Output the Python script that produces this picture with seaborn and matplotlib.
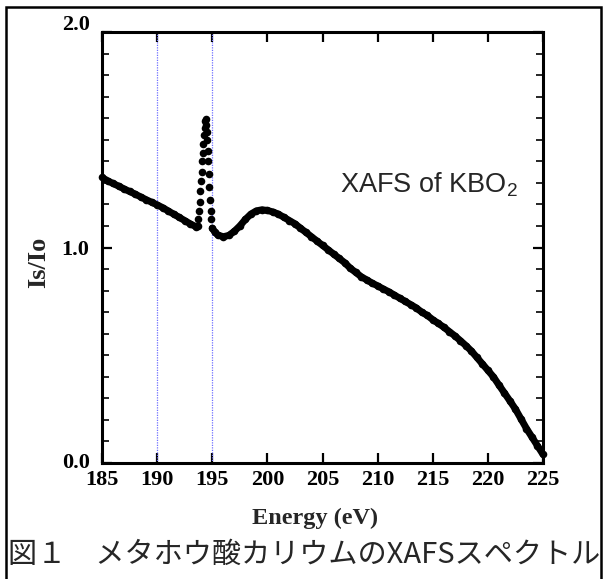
import matplotlib
matplotlib.use("Agg")
import matplotlib.pyplot as plt
import numpy as np
import pandas as pd
import seaborn as sns
from matplotlib.patches import Rectangle
from matplotlib.ticker import MultipleLocator, FormatStrFormatter
from matplotlib.transforms import ScaledTranslation

# ---------------- data ----------------
pre_energy = [185.0, 185.5, 186.0, 186.5, 187.0, 187.5, 188.0, 188.5, 189.0, 189.5,
              190.0, 190.5, 191.0, 191.5, 192.0, 192.5, 193.0, 193.5, 193.7]
pre_ratio = [1.325, 1.31, 1.297, 1.285, 1.272, 1.26, 1.248, 1.235, 1.222, 1.21,
             1.198, 1.185, 1.17, 1.155, 1.14, 1.125, 1.11, 1.097, 1.10]

peak_energy = [193.75, 193.8, 193.85, 193.9, 194.0, 194.05, 194.1, 194.15, 194.2, 194.25,
               194.3, 194.35, 194.4, 194.45, 194.5, 194.55, 194.6, 194.65, 194.7, 194.75,
               194.8, 194.85, 194.9]
peak_ratio = [1.13, 1.17, 1.21, 1.26, 1.31, 1.35, 1.40, 1.44, 1.48, 1.52,
              1.555, 1.585, 1.595, 1.57, 1.535, 1.50, 1.45, 1.40, 1.34, 1.28,
              1.22, 1.17, 1.13]

post_energy = [195.0, 195.25, 195.5, 196.0, 196.5, 197.0, 197.5, 198.0, 198.5, 199.0,
               199.5, 200.0, 200.5, 201.0, 201.5, 202.0, 202.5, 203.0, 203.5, 204.0,
               204.5, 205.0, 205.5, 206.0, 206.5, 207.0, 207.5, 208.0, 208.5, 209.0,
               209.5, 210.0, 210.5, 211.0, 211.5, 212.0, 212.5, 213.0, 213.5, 214.0,
               214.5, 215.0, 215.5, 216.0, 216.5, 217.0, 217.5, 218.0, 218.5, 219.0,
               219.5, 220.0, 220.5, 221.0, 221.5, 222.0, 222.5, 223.0, 223.5, 224.0,
               224.5, 225.0]
post_ratio = [1.09, 1.07, 1.058, 1.05, 1.056, 1.075, 1.10, 1.13, 1.155, 1.17,
              1.175, 1.172, 1.165, 1.155, 1.14, 1.125, 1.11, 1.09, 1.07, 1.05,
              1.03, 1.01, 0.99, 0.97, 0.95, 0.93, 0.905, 0.885, 0.865, 0.85,
              0.835, 0.822, 0.808, 0.795, 0.78, 0.765, 0.75, 0.735, 0.72, 0.70,
              0.685, 0.665, 0.648, 0.63, 0.61, 0.59, 0.568, 0.545, 0.52, 0.49,
              0.46, 0.43, 0.40, 0.362, 0.325, 0.288, 0.25, 0.205, 0.16, 0.12,
              0.08, 0.04]

marker_lines = [190, 195]
x_ticks = [185, 190, 195, 200, 205, 210, 215, 220, 225]
y_ticks = [0.0, 1.0, 2.0]

x_label = "Energy (eV)"
y_label = "Is/Io"
title_text = "XAFS of KBO$_2$"
caption = "図１　メタホウ酸カリウムのXAFSスペクトル"

# ---------------- style ----------------
sns.set_style("ticks")
plt.rcParams["font.family"] = ["Liberation Serif", "DejaVu Sans"]
plt.rcParams["mathtext.fontset"] = "custom"
plt.rcParams["mathtext.rm"] = "Liberation Sans"
plt.rcParams["mathtext.it"] = "Liberation Sans"
plt.rcParams["mathtext.bf"] = "Liberation Sans"

W, H = 607, 579
fig = plt.figure(figsize=(W / 100, H / 100), dpi=100)
fig.patch.set_facecolor("white")

ax_l, ax_r, ax_t, ax_b = 102, 543, 32, 463
ax = fig.add_axes([ax_l / W, 1 - ax_b / H, (ax_r - ax_l) / W, (ax_b - ax_t) / H])
ax.set_facecolor("white")

df_pre = pd.DataFrame({"energy": pre_energy, "ratio": pre_ratio})
df_peak = pd.DataFrame({"energy": peak_energy, "ratio": peak_ratio})
df_post = pd.DataFrame({"energy": post_energy, "ratio": post_ratio})

for xv in marker_lines:
    ax.axvline(xv, color="#6f6fff", lw=0.9, ls=(0, (1, 1)), zorder=1)

for d in (df_pre, df_post):
    sns.lineplot(data=d, x="energy", y="ratio", ax=ax, color="black", lw=5.0,
                 estimator=None, sort=False, solid_capstyle="round",
                 solid_joinstyle="round", zorder=3)
all_df = pd.concat([df_pre, df_peak, df_post])
sns.scatterplot(data=all_df, x="energy", y="ratio", ax=ax, color="black", s=30,
                linewidth=0, zorder=4, clip_on=False)

ax.set_xlim(185, 225)
ax.set_ylim(0, 2)
ax.set_xticks(x_ticks)
ax.set_yticks(y_ticks)
ax.yaxis.set_minor_locator(MultipleLocator(0.1))
ax.yaxis.set_major_formatter(FormatStrFormatter("%.1f"))
ax.tick_params(axis="both", which="major", direction="in", top=True, right=True,
               width=1.6, length=7, labelsize=16, pad=5, colors="black")
ax.tick_params(axis="y", which="minor", direction="in", right=True, left=True,
               width=1.4, length=5)
ax.tick_params(axis="y", which="major", pad=9)
for lab in ax.get_xticklabels() + ax.get_yticklabels():
    lab.set_fontweight("bold")
for sp in ax.spines.values():
    sp.set_linewidth(2.2)
    sp.set_color("black")
ax.set_xlabel("")
ax.set_ylabel("")

# end labels of the y axis sit a little above their ticks in the reference
yticks = ax.yaxis.get_major_ticks()
shifts = {0: 3, 2: 9}
for i, t in enumerate(yticks[:len(y_ticks)]):
    if i in shifts:
        t.label1.set_transform(t.label1.get_transform() +
                               ScaledTranslation(0, shifts[i] / 100, fig.dpi_scale_trans))

fig.text(315 / W, 1 - 518 / H, x_label, ha="center", va="center",
         fontsize=17.5, fontweight="bold")
fig.text(39 / W, 1 - 262 / H, y_label, ha="center", va="center",
         rotation=90, fontsize=19, fontweight="bold")

ax.text(206.6, 1.255, title_text, fontsize=19.5, family="Liberation Sans",
        ha="left", va="baseline")

fig.text(8 / W, 1 - 555 / H, caption, ha="left", va="center", fontsize=21,
         family=["Noto Sans CJK JP", "DejaVu Sans"])

fig.patches.append(Rectangle((6 / W, -0.05), (601 - 6) / W, 0.05 + 1 - 7 / H,
                             transform=fig.transFigure, fill=False,
                             edgecolor="black", lw=1.8, clip_on=False))

fig.savefig("out.png", dpi=100, facecolor="white")
